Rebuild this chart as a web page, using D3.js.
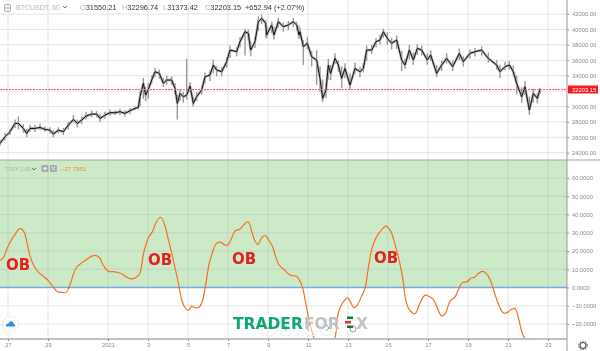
<!DOCTYPE html>
<html>
<head>
<meta charset="utf-8">
<style>
    html, body { margin: 0; padding: 0; background: #fff; }
    svg { display: block; filter: blur(0.35px); }
    text { font-family: "Liberation Sans", Arial, sans-serif; }
</style>
</head>
<body>
<script src="https://d3js.org/d3.v7.min.js"></script>
<script>
    // hours since 27 Dec 2020 00:00
    var priceHours = [-9.6,-3.6,2.4,8.4,12.4,18.4,22.4,26.4,32.4,38.4,44.4,50.4,54.4,60.4,66.4,72.4,78.4,83.2,88.4,93.6,100.4,106.4,110.4,116.4,122.4,128.4,134.4,140.4,146.4,152.4,156.4,158.4,162.4,165.2,168.4,172.4,176.4,181.6,186.4,190.4,196.4,200.4,203.2,206.4,210.4,214.4,218.4,222.4,226.4,232.4,236.4,242.4,246.4,250.4,256.4,262.4,266.4,274.4,278.4,284.4,288.4,291.2,296.4,300.4,304.4,309.2,310.4,316.4,319.2,324.4,330.4,336.4,342.4,346.4,349.2,350.4,354.4,359.2,364.4,370.4,374.4,377.6,381.6,384.4,387.2,392.4,396.4,400.4,404.4,410.4,416.4,422.4,426.4,430.4,436.4,441.6,446.4,450.4,455.2,460.4,466.4,472.4,476.4,481.6,486.4,491.2,496.4,503.2,507.2,514.4,520.4,526.4,533.6,541.6,546.4,554.4,560.4,568.4,576.4,586.4,590.4,596.4,601.6,606.4,610.4,616.4,620.4,625.6,630.4,635.2,638.4];
    var priceClose = [25200,26070,26720,27800,27800,27150,26500,27150,27150,27280,27020,26935,26420,26935,26720,27580,28320,27800,28230,28750,29010,29010,28450,28880,29190,29190,29320,29100,29450,29750,29880,31260,33000,31480,32220,33430,34510,34290,33000,33430,33430,32350,30400,31700,31260,31480,32650,30400,31260,32130,33860,34080,35380,34730,34510,35810,37320,37110,38410,39700,39490,37320,38410,41000,41440,40790,39270,40570,39270,41000,40350,40570,41000,40570,39270,39700,37760,38190,36460,36030,33650,31050,32130,35380,34290,36240,35380,33650,34940,32780,34940,34510,34940,37320,37320,38410,38620,39700,38840,38190,38620,36030,35380,37320,36030,37540,37320,36030,36680,34290,35380,36240,35160,36890,35810,36890,37110,37320,36240,35380,34510,35160,35380,34510,33000,31260,32560,29530,31700,31050,32203];
    var priceHigh = [25700,26600,27100,28300,28700,27700,27100,27600,27600,27800,27400,27300,26900,27300,27200,28000,28900,28300,28700,29300,29500,29400,29000,29300,29600,29500,29700,29500,29800,30000,30100,32000,33700,32500,33000,34000,35000,34800,33700,34000,33900,33000,31500,32200,31900,36200,33100,31300,31900,32700,34400,34700,36100,35200,35100,36400,37900,37700,39000,40100,40000,38500,39000,41700,41900,41200,40500,41000,40300,41500,40900,41100,41500,41000,40500,40100,38600,39000,37200,37300,35200,33500,33000,36200,35400,36900,36000,35200,35600,34300,35700,35200,35600,37900,38000,38900,39300,40100,39600,38900,39200,37200,36200,38000,37000,38100,37900,36900,37300,35400,36000,36900,36000,37500,36500,37400,37600,37800,37000,36000,35400,35800,35900,35300,34000,32500,33300,31300,32300,31700,32400];
    var priceLow = [24900,25600,26300,27200,27000,26600,26000,26700,26700,26900,26700,26500,26000,26500,26300,27000,27900,27300,27700,28300,28600,28600,28000,28400,28800,28900,28900,28700,29000,29500,29600,30000,31000,30700,31000,32900,33800,33600,32500,32800,32800,31500,28300,30700,30500,30900,31800,30000,30700,31500,33000,33300,34300,33900,33900,35000,36300,36500,37700,36600,38500,36500,37600,39800,40700,39000,38900,39500,38700,40200,39700,39900,40300,39900,38900,38800,35400,37400,35200,32800,31900,30600,31100,33500,33400,35500,34500,32400,33700,32200,34200,33800,34400,35900,36800,37700,38000,38900,38000,37400,37500,34600,34900,36100,35400,36700,36600,35400,35900,33800,34600,35600,34600,36000,35200,36200,36500,36600,35700,34800,33700,34700,34800,33900,31600,30500,31500,28900,30500,30400,31600];

    var trixHours = [-9.6,-5.6,-1.6,3.2,8.4,12.4,15.2,19.2,22.4,26.4,30.4,36.4,42.4,48.4,53.6,58.4,64.4,70.4,74.4,78.4,82.4,88.4,94.4,100.4,106.4,110.4,114.4,120.4,128.4,136.4,142.4,148.4,154.4,158.4,162.4,165.6,168.4,173.6,178.4,183.2,187.2,192.4,196.4,200.4,204.4,208.4,212.4,216.4,220.4,224.4,229.2,233.2,237.2,241.2,245.2,249.2,254.4,260.4,264.4,268.4,272.4,278.4,284.4,288.4,292.4,296.4,299.6,304.4,308.4,312.4,317.6,321.6,325.6,332.4,338.4,346.4,350.4,353.6,357.6,361.6,367.2,374.4,382.4,388.4,392.4,395.2,398.4,402.4,407.2,410.4,415.2,419.2,424.4,428.4,432.4,436.4,441.6,446.4,453.6,459.2,464.4,469.6,473.6,477.6,481.6,488.4,493.6,500.4,504.4,510.4,515.2,520.4,525.2,530.4,536.4,540.4,545.2,550.4,556.4,560.4,564.4,569.6,574.4,579.2,584.4,590.4,594.4,598.4,603.2,608.4,612.4,616.4,619.6,626.4,632.4,637.6];
    var trixValues = [14.8,16.3,20.8,25.4,29.0,31.8,32.3,30.5,25.4,17.2,12.6,8.4,6.2,3.8,0.7,-2.0,-2.7,-2.4,1.6,7.1,11.1,13.5,15.3,17.2,17.5,15.9,12.2,8.9,8.6,7.5,5.7,4.7,5.7,8.0,18.1,23.6,27.2,30.9,36.3,38.5,35.4,26.3,19.0,10.8,2.6,-6.6,-11.1,-12.6,-10.2,-11.1,-10.8,-7.5,1.6,12.6,19.0,23.6,25.0,23.2,23.6,27.2,30.9,32.1,35.1,36.0,30.9,25.4,23.6,27.2,28.5,26.3,22.3,16.3,12.2,9.3,6.8,6.0,3.5,-0.2,-9.3,-18.4,-27.6,-34,-35,-31,-27.6,-16.6,-11.1,-7.9,-5.7,-7.5,-11.1,-9.7,-4.7,-0.5,10.8,20.8,27.2,30.5,33.6,30.9,23.6,14.4,5.3,-7.5,-12.1,-14.4,-9.3,-4.2,-4.7,-6.6,-11.1,-15.7,-13.9,-7.5,-5.3,-1.1,2.6,3.1,5.3,5.7,7.7,8.8,7.5,3.5,-3.8,-11.1,-13.9,-13.9,-12.1,-11.5,-16.6,-24,-27.6,-32,-30,-27.8];

    var priceGrid = [42000,40000,38000,36000,34000,32000,30000,28000,26000,24000];
    // 32000 sits behind the last price tag
    var priceTicks = [42000,40000,38000,36000,34000,30000,28000,26000,24000];
    var trixTicks = [60,50,40,30,20,10,0,-10,-20];
    var dayTicks = [[2020,11,27],[2020,11,29],[2021,0,1],[2021,0,3],[2021,0,5],[2021,0,7],[2021,0,9],[2021,0,11],[2021,0,13],[2021,0,15],[2021,0,17],[2021,0,19],[2021,0,21],[2021,0,23]];
    var dayLabels = ["27","29","2021","3","5","7","9","11","13","15","17","19","21","23"];
    var obNames = ["OB","OB","OB","OB"];
    var lastPrice = 32203.15;

    var width = 600,
        height = 351,
        plotRight = 567,
        paneTop = 160,
        axisY = 339;

    var t0 = Date.UTC(2020, 11, 27);
    function toDate(h) { return new Date(t0 + h * 3600000); }
    var dayDates = dayTicks.map(function(d) { return new Date(Date.UTC(d[0], d[1], d[2])); });

    var x = d3.scaleUtc().domain([toDate(0), toDate(648)]).range([8, 548]);
    var yPrice = d3.scaleLinear().domain([24000, 42000]).range([152.7, 14]);
    var yTrix = d3.scaleLinear().domain([-20, 60]).range([324, 178]);

    var svg = d3.select("body").append("svg")
        .attr("width", width)
        .attr("height", height);

    var defs = svg.append("defs");
    defs.append("clipPath").attr("id", "topClip").append("rect")
        .attr("x", 0).attr("y", 0).attr("width", plotRight).attr("height", paneTop);
    defs.append("clipPath").attr("id", "botClip").append("rect")
        .attr("x", 0).attr("y", paneTop).attr("width", plotRight).attr("height", axisY - paneTop);

    // green overbought band
    svg.append("rect")
        .attr("x", 0).attr("y", paneTop)
        .attr("width", plotRight).attr("height", yTrix(0) - paneTop)
        .attr("fill", "#cdeac8");

    // grid
    var gridColor = "#e4e4e4";
    svg.append("g").selectAll("line").data(dayDates).enter().append("line")
        .attr("x1", function(d) { return x(d); })
        .attr("x2", function(d) { return x(d); })
        .attr("y1", 0).attr("y2", axisY)
        .attr("stroke", "#a9a9a9").attr("stroke-opacity", 0.3);
    svg.append("g").selectAll("line").data(priceGrid).enter().append("line")
        .attr("x1", 0).attr("x2", plotRight)
        .attr("y1", function(d) { return yPrice(d); })
        .attr("y2", function(d) { return yPrice(d); })
        .attr("stroke", gridColor);
    svg.append("g").selectAll("line").data(trixTicks.filter(function(d) { return d != 0; })).enter().append("line")
        .attr("x1", 0).attr("x2", plotRight)
        .attr("y1", function(d) { return yTrix(d); })
        .attr("y2", function(d) { return yTrix(d); })
        .attr("stroke", "#a9a9a9").attr("stroke-opacity", 0.3);

    // price wicks and closes
    var pricePane = svg.append("g").attr("clip-path", "url(#topClip)");
    pricePane.selectAll("line").data(priceHours).enter().append("line")
        .attr("x1", function(d) { return x(toDate(d)); })
        .attr("x2", function(d) { return x(toDate(d)); })
        .attr("y1", function(d, i) { return yPrice(priceHigh[i]); })
        .attr("y2", function(d, i) { return yPrice(priceLow[i]); })
        .attr("stroke", "#999").attr("stroke-width", 1.4);
    var priceLine = d3.line()
        .x(function(d, i) { return x(toDate(priceHours[i])); })
        .y(function(d) { return yPrice(d); });
    pricePane.append("path").datum(priceClose)
        .attr("d", priceLine)
        .attr("fill", "none").attr("stroke", "#aaa").attr("stroke-width", 2.4);
    pricePane.append("path").datum(priceClose)
        .attr("d", priceLine)
        .attr("fill", "none").attr("stroke", "#111").attr("stroke-width", 1);

    // last price line
    svg.append("line")
        .attr("x1", 0).attr("x2", plotRight)
        .attr("y1", Math.round(yPrice(lastPrice)) + 0.5).attr("y2", Math.round(yPrice(lastPrice)) + 0.5)
        .attr("stroke", "#ff5a62").attr("stroke-width", 1.2).attr("stroke-dasharray", "2,1");

    // zero line + trix
    svg.append("line")
        .attr("x1", 0).attr("x2", plotRight)
        .attr("y1", yTrix(0)).attr("y2", yTrix(0))
        .attr("stroke", "#74ace8").attr("stroke-width", 1.5);
    var trixLine = d3.line()
        .x(function(d, i) { return x(toDate(trixHours[i])); })
        .y(function(d) { return yTrix(d); })
        .curve(d3.curveCatmullRom);
    svg.append("path").datum(trixValues)
        .attr("clip-path", "url(#botClip)")
        .attr("d", trixLine)
        .attr("fill", "none").attr("stroke", "#f5701f").attr("stroke-width", 1.2);

    // frame lines
    svg.append("line").attr("x1", 0).attr("x2", 600).attr("y1", paneTop).attr("y2", paneTop)
        .attr("stroke", "#9aa89a").attr("stroke-width", 1);
    svg.append("line").attr("x1", 0).attr("x2", plotRight).attr("y1", axisY).attr("y2", axisY)
        .attr("stroke", "#c2c2c2").attr("stroke-width", 2);
    svg.append("line").attr("x1", plotRight).attr("x2", plotRight).attr("y1", 0).attr("y2", 351)
        .attr("stroke", "#9a9a9a");

    // axes
    function styleAxis(g) {
        g.select(".domain").remove();
        g.selectAll("line").attr("stroke", "#8c8c8c");
        g.selectAll("text").attr("fill", "#8a8a8a").style("font-size", "5.8px");
    }
    svg.append("g").attr("transform", "translate(" + plotRight + ",0)")
        .call(d3.axisRight(yPrice).tickValues(priceTicks).tickSize(2).tickPadding(3).tickFormat(d3.format(".2f")))
        .call(styleAxis);
    svg.append("g").attr("transform", "translate(" + plotRight + ",0)")
        .call(d3.axisRight(yTrix).tickValues(trixTicks).tickSize(2).tickPadding(3)
            .tickFormat(function(d) { return (d < 0 ? "\u2212" : "") + d3.format(".4f")(Math.abs(d)); }))
        .call(styleAxis);
    svg.append("g").attr("transform", "translate(0," + axisY + ")")
        .call(d3.axisBottom(x).tickValues(dayDates).tickSize(2).tickPadding(2)
            .tickFormat(function(d, i) { return dayLabels[i]; }))
        .call(styleAxis);

    // last price tag
    svg.append("rect").attr("x", 568).attr("y", yPrice(lastPrice) - 4).attr("width", 30).attr("height", 8).attr("fill", "#f8191e");
    svg.append("text").attr("x", 572).attr("y", yPrice(lastPrice) + 2.1)
        .attr("fill", "#fff").style("font-size", "5.8px").text(d3.format(".2f")(lastPrice));

    // header
    svg.append("rect").attr("x", 4.5).attr("y", 4.5).attr("width", 6).attr("height", 7).attr("rx", 1.5)
        .attr("fill", "none").attr("stroke", "#aaa");
    svg.append("line").attr("x1", 5).attr("x2", 10).attr("y1", 8).attr("y2", 8).attr("stroke", "#aaa");
    svg.append("text").attr("x", 16).attr("y", 10.2).attr("fill", "#b4b4b4").style("font-size", "7px").text("BTCUSDT, 60");
    var ohlc = [[80, "O", "31550.21"], [122, "H", "32296.74"], [163, "L", "31373.42"], [205, "C", "32203.15"]];
    ohlc.forEach(function(d) {
        var t = svg.append("text").attr("x", d[0]).attr("y", 10.2).style("font-size", "7.4px");
        t.append("tspan").attr("fill", "#b4b4b4").text(d[1]);
        t.append("tspan").attr("fill", "#333").text(d[2]);
    });
    svg.append("text").attr("x", 245).attr("y", 10.2).attr("fill", "#333").style("font-size", "7.4px").text("+652.94 (+2.07%)");
    svg.append("path").attr("d", "M63,6 l2,2 l2,-2").attr("fill", "none").attr("stroke", "#777");

    // indicator legend
    svg.append("text").attr("x", 5).attr("y", 171).attr("fill", "#a9b5a8").style("font-size", "6px").text("TRIX (18)");
    svg.append("path").attr("d", "M32,168 l2,2 l2,-2").attr("fill", "none").attr("stroke", "#667");
    svg.append("rect").attr("x", 41.5).attr("y", 165).attr("width", 7).attr("height", 7).attr("rx", 1).attr("fill", "#a6aab6");
    svg.append("rect").attr("x", 50).attr("y", 165).attr("width", 7).attr("height", 7).attr("rx", 1).attr("fill", "#a6aab6");
    svg.append("circle").attr("cx", 45).attr("cy", 168.5).attr("r", 1.6).attr("fill", "#eee");
    svg.append("path").attr("d", "M51.8,166.8 l3.4,3.4 m0,-3.4 l-3.4,3.4").attr("stroke", "#eee");
    svg.append("text").attr("x", 61).attr("y", 171).attr("fill", "#f58a3c").style("font-size", "6px").text("\u221227.7851");

    // OB annotations
    var obX = [18, 160, 244, 386], obY = [270, 264.5, 264, 262.5];
    svg.append("g").selectAll("text").data(obNames).enter().append("text")
        .attr("x", function(d, i) { return obX[i]; })
        .attr("y", function(d, i) { return obY[i]; })
        .attr("text-anchor", "middle")
        .attr("fill", "#e0231c")
        .style("font-family", "'DejaVu Sans'")
        .style("font-weight", "bold")
        .style("font-size", "15px")
        .text(function(d) { return d; });

    // chart nav buttons
    [269, 286, 311, 328, 353].forEach(function(cx) {
        svg.append("circle").attr("cx", cx).attr("cy", 328).attr("r", 8)
            .attr("fill", "#fff").attr("fill-opacity", 0.5).attr("stroke", "#eee");
    });
    svg.append("path").attr("d", "M309,331 l-2,-3 l3,-4 M326,324 l3,4 l-3,3").attr("fill", "none").attr("stroke", "#8b9aa8");
    svg.append("path").attr("d", "M283,328 h6 M286,325 v6 M266,328 h6").attr("stroke", "#999");
    svg.append("circle").attr("cx", 353).attr("cy", 329).attr("r", 3).attr("fill", "none").attr("stroke", "#8b9aa8");

    // cloud button
    svg.append("circle").attr("cx", 10.5).attr("cy", 324).attr("r", 8).attr("fill", "#fff").attr("stroke", "#ececec");
    svg.append("path").attr("d", "M6,326.5 q-0.5,-3 2.5,-3 q1,-3 3.5,-2 q2,0.5 1.5,2.5 q2.5,0 1.5,2.5 z").attr("fill", "#2e8fdc");

    // watermark
    function mark(label, px, color) {
        return svg.append("text").attr("x", px).attr("y", 328.5).attr("fill", color)
            .style("font-family", "'DejaVu Sans'").style("font-weight", "bold").style("font-size", "15.5px")
            .text(label);
    }
    mark("TRADER", 233, "#0fa66f");
    mark("FOR", 304, "#c2c2c2");
    mark("X", 356, "#c2c2c2");
    svg.append("rect").attr("x", 347).attr("y", 316.5).attr("width", 6).attr("height", 2.5).attr("fill", "#0c7a32");
    svg.append("rect").attr("x", 345).attr("y", 321).attr("width", 6).attr("height", 2.5).attr("fill", "#ef2b3a");
    svg.append("rect").attr("x", 347).attr("y", 325.5).attr("width", 6).attr("height", 2.5).attr("fill", "#0c7a32");

    // gear
    svg.append("circle").attr("cx", 583).attr("cy", 345.5).attr("r", 3).attr("fill", "none").attr("stroke", "#555").attr("stroke-width", 1.2);
    svg.append("circle").attr("cx", 583).attr("cy", 345.5).attr("r", 4.3).attr("fill", "none").attr("stroke", "#555").attr("stroke-dasharray", "1.5,1.2");
</script>
</body>
</html>
